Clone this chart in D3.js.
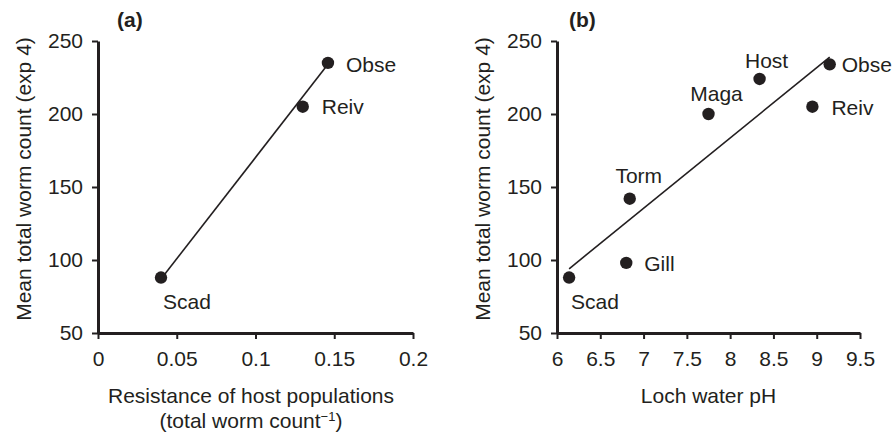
<!DOCTYPE html>
<html>
<head>
<meta charset="utf-8">
<script src="https://cdn.jsdelivr.net/npm/d3@7"></script>
<style>
  body { margin: 0; background: #fff; }
  svg { display: block; font-family: "Liberation Sans", Arial, sans-serif; }
  .axis path, .axis line { stroke: #231f20; }
  .axis text { fill: #231f20; font-size: 21px; font-family: "Liberation Sans", Arial, sans-serif; }
</style>
</head>
<body>
<svg id="chart" width="893" height="433"></svg>
<script>
// panel (a): resistance vs mean worm count
const lochsA = ['Scad', 'Reiv', 'Obse'];
const resistA = [0.04, 0.13, 0.146];
const wormsA = [88, 205, 235];
const fitA_x = [0.04, 0.146];
const fitA_y = [87, 234];
const xTicksA = [0, 0.05, 0.1, 0.15, 0.2];
const xTickLabelsA = ['0', '0.05', '0.1', '0.15', '0.2'];

// panel (b): loch pH vs mean worm count
const lochsB = ['Scad', 'Gill', 'Torm', 'Maga', 'Host', 'Reiv', 'Obse'];
const phB = [6.14, 6.8, 6.84, 7.75, 8.34, 8.95, 9.15];
const wormsB = [88, 98, 142, 200, 224, 205, 234];
const fitB_x = [6.14, 9.15];
const fitB_y = [94, 239];
const xTicksB = [6, 6.5, 7, 7.5, 8, 8.5, 9, 9.5];

const yTicks = [50, 100, 150, 200, 250];

// where each point label sits relative to its dot [dx, dy, anchor]
const labelPosA = {
  Scad: [2, 31, 'start'], Reiv: [19, 7, 'start'], Obse: [18, 9, 'start']
};
const labelPosB = {
  Scad: [2, 31, 'start'], Gill: [18, 8, 'start'], Torm: [9, -16, 'middle'],
  Maga: [8, -13, 'middle'], Host: [7, -11, 'middle'], Reiv: [19, 8, 'start'],
  Obse: [12, 8, 'start']
};

const ink = '#231f20';
const fs = 21;
const svg = d3.select('#chart');

function drawPanel(p) {
  const x = d3.scaleLinear().domain(p.xDomain).range(p.xRange);
  const y = d3.scaleLinear().domain([50, 250]).range([333, 41]);

  const xAxis = svg.append('g')
    .attr('class', 'axis')
    .attr('transform', `translate(0,${y(50)})`)
    .call(d3.axisBottom(x).tickValues(p.xTicks).tickSize(6).tickSizeOuter(0).tickPadding(12)
      .tickFormat((d, i) => p.xLabels ? p.xLabels[i] : String(d)));
  const yAxis = svg.append('g')
    .attr('class', 'axis')
    .attr('transform', `translate(${x(p.xDomain[0])},0)`)
    .call(d3.axisLeft(y).tickValues(yTicks).tickSize(6).tickSizeOuter(0).tickPadding(9));

  [xAxis, yAxis].forEach(a => {
    a.select('.domain').attr('stroke-width', 3);
    a.selectAll('.tick line').attr('stroke-width', 2);
  });

  // fitted line
  svg.append('line')
    .attr('x1', x(p.fitX[0])).attr('y1', y(p.fitY[0]))
    .attr('x2', x(p.fitX[1])).attr('y2', y(p.fitY[1]))
    .attr('stroke', ink)
    .attr('stroke-width', 1.6);

  const pts = p.names.map((n, i) => ({ name: n, x: p.xs[i], y: p.ys[i] }));

  svg.append('g').selectAll('circle')
    .data(pts)
    .enter()
    .append('circle')
    .attr('cx', d => x(d.x))
    .attr('cy', d => y(d.y))
    .attr('r', 6.2)
    .attr('fill', ink);

  svg.append('g').selectAll('text')
    .data(pts)
    .enter()
    .append('text')
    .attr('x', d => x(d.x) + p.labelPos[d.name][0])
    .attr('y', d => y(d.y) + p.labelPos[d.name][1])
    .attr('text-anchor', d => p.labelPos[d.name][2])
    .attr('font-size', fs)
    .attr('fill', ink)
    .text(d => d.name);

  // panel letter
  svg.append('text')
    .attr('x', p.letterX).attr('y', 27)
    .attr('font-size', fs).attr('font-weight', 'bold')
    .attr('fill', ink)
    .text(p.letter);

  // y label
  svg.append('text')
    .attr('transform', `translate(${x(p.xDomain[0]) - 67},179) rotate(-90)`)
    .attr('text-anchor', 'middle')
    .attr('font-size', fs)
    .attr('fill', ink)
    .text('Mean total worm count (exp 4)');

  return x;
}

const xa = drawPanel({
  xDomain: [0, 0.2], xRange: [98, 413], xTicks: xTicksA, xLabels: xTickLabelsA,
  names: lochsA, xs: resistA, ys: wormsA, fitX: fitA_x, fitY: fitA_y,
  labelPos: labelPosA, letter: '(a)', letterX: 117
});

const xb = drawPanel({
  xDomain: [6, 9.5], xRange: [557, 860], xTicks: xTicksB, xLabels: null,
  names: lochsB, xs: phB, ys: wormsB, fitX: fitB_x, fitY: fitB_y,
  labelPos: labelPosB, letter: '(b)', letterX: 569
});

// x labels
svg.append('text')
  .attr('x', 251).attr('y', 403)
  .attr('text-anchor', 'middle')
  .attr('font-size', fs)
  .attr('fill', ink)
  .text('Resistance of host populations');

const l2 = svg.append('text')
  .attr('x', 251).attr('y', 428)
  .attr('text-anchor', 'middle')
  .attr('font-size', fs)
  .attr('fill', ink);
l2.append('tspan').text('(total worm count');
l2.append('tspan').attr('font-size', 13).attr('dy', -7).text('\u22121');
l2.append('tspan').attr('dy', 7).text(')');

svg.append('text')
  .attr('x', (xb.range()[0] + xb.range()[1]) / 2)
  .attr('y', 403)
  .attr('text-anchor', 'middle')
  .attr('font-size', fs)
  .attr('fill', ink)
  .text('Loch water pH');
</script>
</body>
</html>
